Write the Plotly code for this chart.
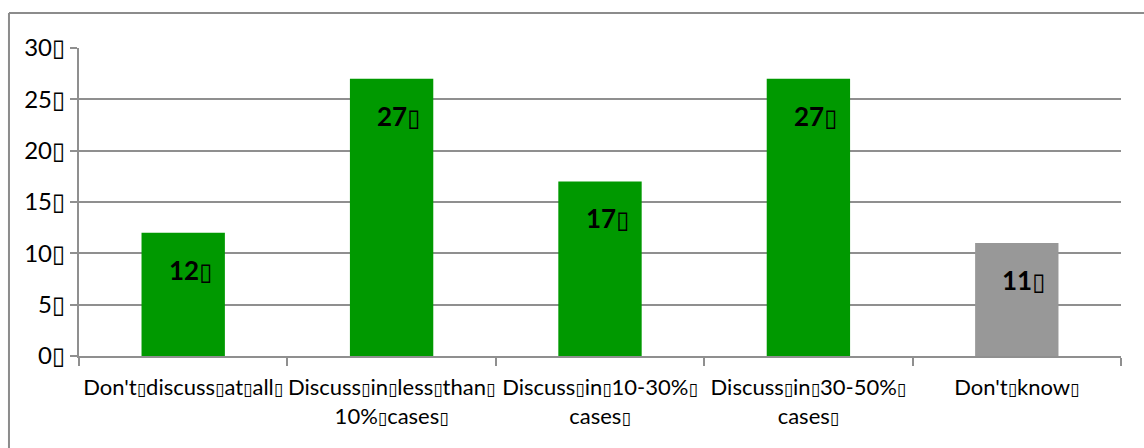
import plotly.graph_objects as go

# Survey answers and the share (%) of respondents for each
categories = [
    "Don't discuss at all",
    "Discuss in less than<br>10% cases",
    "Discuss in 10-30%<br>cases",
    "Discuss in 30-50%<br>cases",
    "Don't know",
]
values = [12, 27, 17, 27, 11]
bar_colors = ["#009900", "#009900", "#009900", "#009900", "#989898"]
y_ticks = [0, 5, 10, 15, 20, 25, 30]

BOX = "<span style='font-family:DejaVu Sans;font-size:24px'>▯</span>"
GAP = "<span style='font-family:DejaVu Sans;font-size:17px'>▯</span>"
FONT = "Lato, Carlito, Calibri, sans-serif"
GRID = "#8f8f8f"


def boxed(label):
    # spaces and line ends carry the small square marker
    lines = label.split("<br>")
    return "<br>".join(line.replace(" ", GAP) + GAP for line in lines)


fig = go.Figure(
    go.Bar(
        x=categories,
        y=values,
        marker=dict(color=bar_colors, line=dict(width=0)),
        hoverinfo="skip",
    )
)

for cat, v in zip(categories, values):
    fig.add_annotation(
        x=cat, y=v, xref="x", yref="y",
        text=f"<b>{v}</b>" + BOX,
        showarrow=False,
        yshift=-37, xshift=7,
        font=dict(family=FONT, size=26, color="#000000"),
    )

# outer chart frame (top and left edges)
fig.add_shape(type="line", xref="paper", yref="paper",
              x0=-0.0672, x1=1.1, y0=1.1136, y1=1.1136,
              line=dict(color="#8c8c8c", width=2))
fig.add_shape(type="line", xref="paper", yref="paper",
              x0=-0.0672, x1=-0.0672, y0=1.1136, y1=-0.4,
              line=dict(color="#8c8c8c", width=2))

fig.update_layout(
    width=1144, height=448,
    margin=dict(l=79, r=23, t=48, b=92, autoexpand=False),
    paper_bgcolor="#ffffff", plot_bgcolor="#ffffff",
    bargap=0.6,
    showlegend=False,
    font=dict(family=FONT, size=22, color="#000000"),
)
fig.update_xaxes(
    tickmode="array", tickvals=categories, ticktext=[boxed(c) for c in categories],
    tickson="boundaries", ticks="outside", ticklen=8, tickwidth=2, tickcolor=GRID,
    showline=True, linecolor=GRID, linewidth=2,
    showgrid=False, ticklabelstandoff=11, tickangle=0, automargin=False,
    tickfont=dict(family=FONT, size=22, color="#000000"),
)
fig.update_yaxes(
    range=[0, 30], tickmode="array", tickvals=y_ticks,
    ticktext=[f"{t}{BOX}" for t in y_ticks],
    ticks="outside", ticklen=7, tickwidth=2, tickcolor=GRID,
    showline=True, linecolor=GRID, linewidth=2,
    showgrid=True, gridcolor=GRID, gridwidth=2,
    zeroline=False, automargin=False,
    tickfont=dict(family=FONT, size=24, color="#000000"),
)

fig.write_html("out.html")
